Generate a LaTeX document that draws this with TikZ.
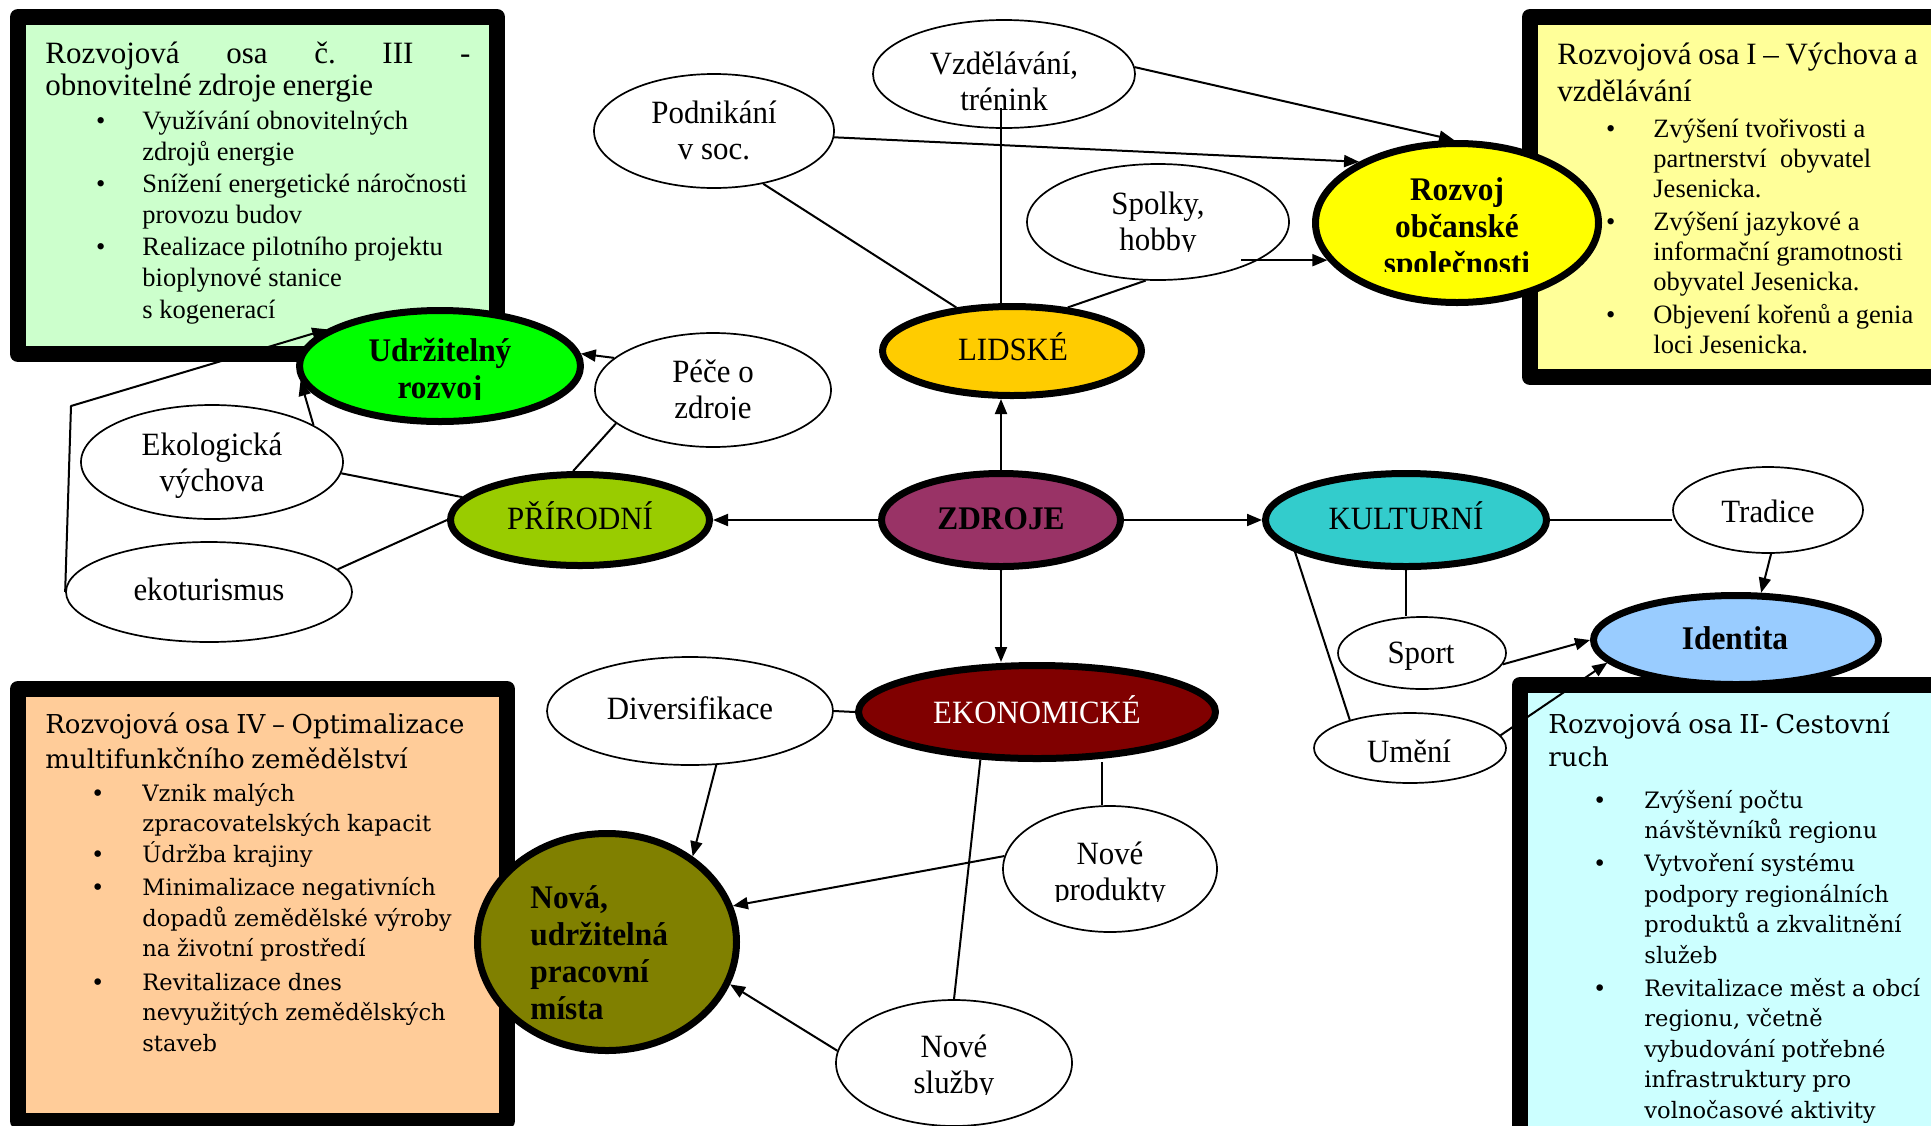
\documentclass[tikz,border=0pt]{standalone}
\usepackage{fontspec}
\setmainfont{Liberation Serif}
\newfontfamily\ellfont{Liberation Serif}[FakeStretch=0.95]
\newfontfamily\dvfont{DejaVu Serif}
\usetikzlibrary{arrows.meta,shapes.geometric}
\definecolor{gboxc}{HTML}{CCFFCC}
\definecolor{yboxc}{HTML}{FFFF99}
\definecolor{oboxc}{HTML}{FFCC99}
\definecolor{cboxc}{HTML}{CCFFFF}
\definecolor{udrzc}{HTML}{00FF00}
\definecolor{rozvc}{HTML}{FFFF00}
\definecolor{lidc}{HTML}{FFCC00}
\definecolor{pric}{HTML}{99CC00}
\definecolor{zdrc}{HTML}{993366}
\definecolor{kulc}{HTML}{33CCCC}
\definecolor{idc}{HTML}{99CCFF}
\definecolor{ekoc}{HTML}{800000}
\definecolor{novc}{HTML}{808000}
\newlength\itmind
\newlength\itmbul
\newcommand\itm[1]{\par{\let\\\newline\hangindent=\itmind\hangafter=0\noindent\llap{\textbullet\hspace{\itmbul}}#1\par}}
\begin{document}
\begin{tikzpicture}[x=0.5pt,y=-0.5pt,line join=round,
 mainell/.style={ellipse,draw=black,line width=3.5pt,inner sep=0pt},
 subell/.style={ellipse,draw=black,line width=0.85pt,fill=white,inner sep=0pt},
 con/.style={line width=1pt},
 arr/.style={line width=1pt,-{Triangle[length=7.5pt,width=6pt]}},
 rtxt/.style={font=\ellfont\fontsize{16.25}{18}\selectfont,align=center,inner sep=0pt},
 btxt/.style={font=\ellfont\bfseries\fontsize{16.5}{18.5}\selectfont,align=center,inner sep=0pt},
 boxfr/.style={line width=8pt,draw=black},
 boxtxt/.style={anchor=north west,inner sep=0pt,align=left}]
\useasboundingbox (0,0) rectangle (1931,1125);
\fill[white] (0,0) rectangle (1931,1125);
% boxes
\draw[boxfr,fill=gboxc] (18,17) rectangle (497,354);
\draw[boxfr,fill=yboxc] (1530,17) rectangle (1980,377);
\draw[boxfr,fill=oboxc] (18,689) rectangle (507,1121);
\draw[boxfr,fill=cboxc] (1520,685) rectangle (1980,1160);
% ellipses
\node[subell,minimum width=131pt,minimum height=54pt] (vzd) at (1004,74) {};
\node[subell,minimum width=120pt,minimum height=57pt] (podn) at (714,131) {};
\node[subell,minimum width=131pt,minimum height=58pt] (spolky) at (1158,222) {};
\node[mainell,fill=rozvc,minimum width=141.5pt,minimum height=79.5pt] (rozvoj) at (1457,223) {};
\node[mainell,fill=lidc,minimum width=129.5pt,minimum height=44.5pt] (lidske) at (1012,351) {};
\node[mainell,fill=udrzc,minimum width=140.5pt,minimum height=55.5pt] (udrz) at (440,366) {};
\node[subell,minimum width=118pt,minimum height=57pt] (pece) at (713,390) {};
\node[subell,minimum width=131pt,minimum height=57pt] (eko) at (212,462) {};
\node[mainell,fill=pric,minimum width=129.5pt,minimum height=45.5pt] (prir) at (580,520) {};
\node[mainell,fill=zdrc,minimum width=119.5pt,minimum height=46.5pt] (zdroje) at (1001,520) {};
\node[mainell,fill=kulc,minimum width=140.5pt,minimum height=46.5pt] (kult) at (1406,520) {};
\node[subell,minimum width=95pt,minimum height=43pt] (tradice) at (1768,510) {};
\node[subell,minimum width=143pt,minimum height=50pt] (ekot) at (209,592) {};
\node[subell,minimum width=84pt,minimum height=36pt] (sport) at (1422,653) {};
\node[mainell,fill=idc,minimum width=142.5pt,minimum height=44.5pt] (ident) at (1736,640) {};
\node[subell,minimum width=143pt,minimum height=54pt] (divers) at (690,711) {};
\node[mainell,fill=ekoc,minimum width=178.5pt,minimum height=46.5pt] (ekon) at (1037,712) {};
\node[subell,minimum width=96pt,minimum height=35pt] (umeni) at (1410,748) {};
\node[mainell,fill=novc,minimum width=129.5pt,minimum height=108.5pt] (nova) at (607,942) {};
\node[subell,minimum width=107pt,minimum height=63pt] (npro) at (1110,869) {};
\node[subell,minimum width=118pt,minimum height=63pt] (nslu) at (954,1063) {};
% box texts
\node[boxtxt,text width=260pt] (gtext) at (45,42) {\setlength\itmind{48.5pt}\setlength\itmbul{18.5pt}%
\fontsize{15.5}{16}\selectfont\makebox[212.5pt][l]{Rozvojová\hfill osa\hfill č.\hfill III\hfill -}\\obnovitelné zdroje energie\par
\fontsize{13.25}{15.75}\selectfont\vspace{1pt}%
\itm{Využívání obnovitelných\\zdrojů energie}%
\itm{Snížení energetické náročnosti\\provozu budov}%
\itm{Realizace pilotního projektu\\bioplynové stanice\\s kogenerací}};
\node[boxtxt,text width=250pt] (ytext) at (1557,43) {\setlength\itmind{48pt}\setlength\itmbul{19pt}%
\fontsize{15.5}{18.5}\selectfont Rozvojová osa I – Výchova a\\vzdělávání\par
\fontsize{13.25}{15}\selectfont\vspace{3pt}%
\itm{Zvýšení tvořivosti a\\partnerství\ \ obyvatel\\Jesenicka.}\vspace{1.5pt}%
\itm{Zvýšení jazykové a\\informační gramotnosti\\obyvatel Jesenicka.}\vspace{1.5pt}%
\itm{Objevení kořenů a genia\\loci Jesenicka.}};
\node[boxtxt,text width=260pt,font=\dvfont] (otext) at (45,712) {\setlength\itmind{48.5pt}\setlength\itmbul{19pt}%
\fontsize{13}{17.5}\selectfont Rozvojová osa IV – Optimalizace\\multifunkčního zemědělství\par
\fontsize{11.3}{15.25}\selectfont\vspace{1.25pt}%
\itm{Vznik malých\\zpracovatelských kapacit}%
\itm{Údržba krajiny}\vspace{1.5pt}%
\itm{Minimalizace negativních\\dopadů zemědělské výroby\\na životní prostředí}\vspace{1.5pt}%
\itm{Revitalizace dnes\\nevyužitých zemědělských\\staveb}};
\node[boxtxt,text width=250pt,font=\dvfont] (ctext) at (1548,712) {\setlength\itmind{48pt}\setlength\itmbul{19pt}%
\fontsize{13}{16.5}\selectfont Rozvojová osa II- Cestovní\\ruch\par
\fontsize{11.3}{15.25}\selectfont\vspace{5.75pt}%
\itm{Zvýšení počtu\\návštěvníků regionu}\vspace{1.25pt}%
\itm{Vytvoření systému\\podpory regionálních\\produktů a zkvalitnění\\služeb}\vspace{1.25pt}%
\itm{Revitalizace měst a obcí\\regionu, včetně\\vybudování potřebné\\infrastruktury pro\\volnočasové aktivity}};
% ellipse texts
\node[rtxt] (vzdT) at (1004,81) {Vzdělávání,\\trénink};
\node[rtxt] (podnT) at (714,130) {Podnikání\\v soc.};
\path node[rtxt] (spolkyP) at (1158,225) {\phantom{Spolky,}\\\phantom{hobby}};
\begin{scope}
\clip ([yshift=3.4pt]spolkyP.south west) rectangle ([yshift=6pt]spolkyP.north east);
\node[rtxt] (spolkyT) at (spolkyP) {Spolky,\\hobby};
\end{scope}
\path node[btxt] (rozvojP) at (1457,230) {\phantom{Rozvoj}\\\phantom{občanské}\\\phantom{společnosti}};
\begin{scope}
\clip ([yshift=5.5pt]rozvojP.south west) rectangle ([yshift=6pt]rozvojP.north east);
\node[btxt] (rozvojT) at (rozvojP) {Rozvoj\\občanské\\společnosti};
\end{scope}
\node[rtxt] (lidskeT) at (1013,347) {LIDSKÉ};
\path node[btxt] (udrzP) at (440,372) {\phantom{Udržitelný}\\\phantom{rozvoj}};
\begin{scope}
\clip ([yshift=3.5pt]udrzP.south west) rectangle ([yshift=6pt]udrzP.north east);
\node[btxt] (udrzT) at (udrzP) {Udržitelný\\rozvoj};
\end{scope}
\path node[rtxt] (peceP) at (713,393) {\phantom{Péče o}\\\phantom{zdroje}};
\begin{scope}
\clip ([yshift=3.4pt]peceP.south west) rectangle ([yshift=6pt]peceP.north east);
\node[rtxt] (peceT) at (peceP) {Péče o\\zdroje};
\end{scope}
\node[rtxt] (ekoT) at (212,466) {Ekologická\\výchova};
\node[rtxt] (prirT) at (580,516) {PŘÍRODNÍ};
\node[btxt] (zdrojeT) at (1001,519) {ZDROJE};
\node[rtxt] (kultT) at (1406,516) {KULTURNÍ};
\node[rtxt] (tradT) at (1768,511) {Tradice};
\node[rtxt] (ekotT) at (209,589) {ekoturismus};
\node[rtxt] (sportT) at (1421,656) {Sport};
\node[btxt] (identT) at (1735,638) {Identita};
\node[rtxt] (diversT) at (690,708) {Diversifikace};
\node[rtxt,text=white] (ekonT) at (1037,710) {EKONOMICKÉ};
\node[rtxt] (umeniT) at (1409,751) {Umění};
\node[btxt,align=left,anchor=west] (novaT) at (530,953) {Nová,\\udržitelná\\pracovní\\místa};
\path node[rtxt] (nproP) at (1110,875) {\phantom{Nové}\\\phantom{produkty}};
\begin{scope}
\clip ([yshift=3.4pt]nproP.south west) rectangle ([yshift=6pt]nproP.north east);
\node[rtxt] (nproT) at (nproP) {Nové\\produkty};
\end{scope}
\path node[rtxt] (nsluP) at (954,1068) {\phantom{Nové}\\\phantom{služby}};
\begin{scope}
\clip ([yshift=3.4pt]nsluP.south west) rectangle ([yshift=6pt]nsluP.north east);
\node[rtxt] (nsluT) at (nsluP) {Nové\\služby};
\end{scope}
% free ends
\coordinate (vzdin) at (1001,108);
\coordinate (spolkyin) at (1241,257);
\coordinate (bend) at (71,406);
% connectors
\draw[arr] (zdroje.north) -- (zdroje.north |- lidske.south);
\draw[arr] (zdroje.west) -- (prir.east);
\draw[arr] (zdroje.east) -- (kult.west);
\draw[arr] (zdroje.south) -- (zdroje.south |- ekon.north);
\draw[con] (vzdin) -- (vzdin |- lidske.north);
\draw[con] (lidske.142) -- (podn.-47);
\draw[con] (lidske.38) -- (spolky.-102);
\draw[arr] (podn.-3) -- (rozvoj.148);
\draw[arr] (vzd.3) -- (rozvoj.92);
\draw[arr] (spolkyin |- rozvoj.196) -- (rozvoj.196);
\draw[con] (prir.98) -- (pece.199);
\draw[arr] (pece.162) -- (udrz.5);
\draw[con] (prir.169) -- (eko.-5);
\draw[con] (prir.180) -- (ekot.10);
\draw[arr] (eko.20) -- (udrz.186);
\draw[arr] (ekot.west) -- (bend) -- (udrz.162);
\draw[con] (kult.east) -- (kult.east -| tradice.west);
\draw[arr] (tradice.-86) -- (ident.62);
\draw[con] (kult.south) -- (kult.south |- sport.north);
\draw[con] (kult.196) -- (umeni.155);
\draw[arr] (sport.-8) -- (ident.180);
\draw[arr] (umeni.8) -- (ident.190);
\draw[con] (divers.east) -- (ekon.west);
\draw[arr] (divers.-64) -- (nova.45);
\draw[con] (npro.97 |- ekon.south) -- (npro.97);
\draw[arr] (npro.173) -- (nova.16);
\draw[con] (ekon.220) -- (nslu.90);
\draw[arr] (nslu.174) -- (nova.-19);
\end{tikzpicture}
\end{document}
